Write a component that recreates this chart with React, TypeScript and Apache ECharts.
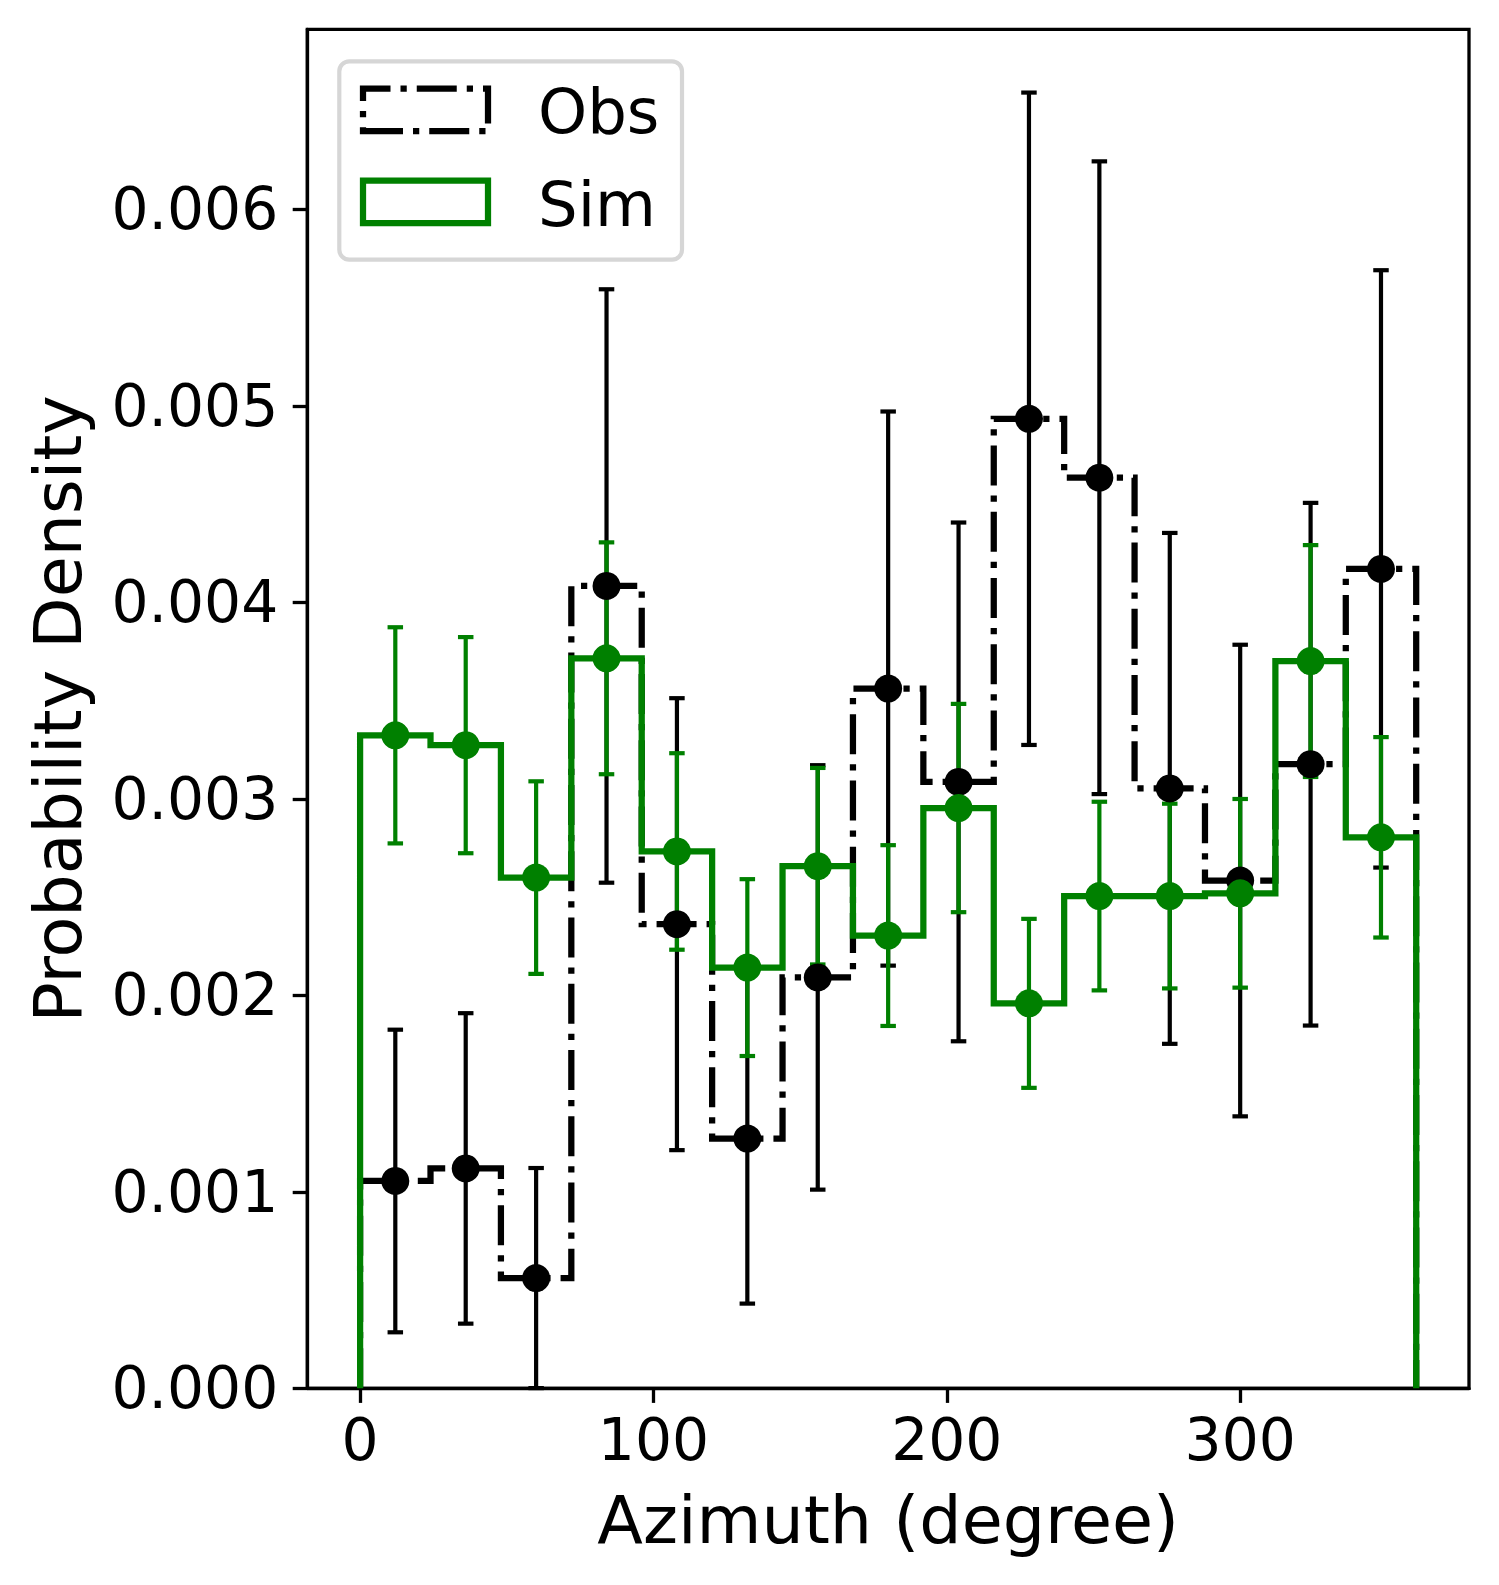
import React, { useEffect, useRef } from "react";
import * as echarts from "echarts";

// ---- data ----
const binEdges = [0, 24, 48, 72, 96, 120, 144, 168, 192, 216, 240, 264, 288, 312, 336, 360];
const binCenters = [12, 36, 60, 84, 108, 132, 156, 180, 204, 228, 252, 276, 300, 324, 348];
const obsDensity = [0.001055, 0.001119, 0.000561, 0.004083, 0.002362, 0.001271, 0.002091, 0.003561, 0.003086, 0.004934, 0.004634, 0.003053, 0.002584, 0.003176, 0.00417];
const obsError = [0.00077, 0.00079, 0.00056, 0.00151, 0.00115, 0.00084, 0.00108, 0.00141, 0.00132, 0.00166, 0.00161, 0.0013, 0.0012, 0.00133, 0.00152];
const simDensity = [0.003323, 0.003273, 0.002599, 0.003715, 0.002732, 0.002141, 0.002657, 0.002304, 0.002953, 0.001959, 0.002505, 0.002505, 0.002519, 0.003701, 0.002804];
const simError = [0.00055, 0.00055, 0.00049, 0.00059, 0.0005, 0.00045, 0.0005, 0.00046, 0.00053, 0.00043, 0.00048, 0.00047, 0.00048, 0.00059, 0.00051];
const xTicks = [0, 100, 200, 300];
const yTicks = [0, 0.001, 0.002, 0.003, 0.004, 0.005, 0.006];
const legendLabels = ["Obs", "Sim"];
const xName = "Azimuth (degree)";
const yName = "Probability Density";

const FONT = "DejaVu Sans";
const BLACK = "#000000";
const GREEN = "#008000";
const DASHDOT = [40, 10, 6.25, 10];

function stepPoints(edges: number[], values: number[]) {
  const pts: number[][] = [[edges[0], 0]];
  values.forEach((v, i) => {
    pts.push([edges[i], v]);
    pts.push([edges[i + 1], v]);
  });
  pts.push([edges[edges.length - 1], 0]);
  return pts;
}

function errData(values: number[], errs: number[]) {
  return binCenters.map((c, i) => [c, values[i] - errs[i], values[i] + errs[i]]);
}

function errRender(color: string) {
  return (params: any, api: any) => {
    const x = api.value(0);
    const lo = api.value(1);
    const hi = api.value(2);
    const top = api.coord([x, hi]);
    const bot = api.coord([x, lo]);
    const hw = 7.75;
    const style = { stroke: color, lineWidth: 4.2 };
    return {
      type: "group",
      children: [
        { type: "line", shape: { x1: top[0], y1: top[1], x2: bot[0], y2: bot[1] }, style },
        { type: "line", shape: { x1: top[0] - hw, y1: top[1], x2: top[0] + hw, y2: top[1] }, style },
        { type: "line", shape: { x1: bot[0] - hw, y1: bot[1], x2: bot[0] + hw, y2: bot[1] }, style },
      ],
    };
  };
}

export default function App() {
  const ref = useRef<HTMLDivElement>(null);
  useEffect(() => {
    if (!ref.current) return;
    const chart = echarts.init(ref.current, null, { renderer: "svg" });
    const gridLeft = 307.3;
    const gridTop = 29.3;
    const gridRight = 1469;
    const gridBottom = 1388.3;
    const axisLineStyle = { color: BLACK, width: 3.3 };
    const labelBase = { color: BLACK, fontFamily: FONT, fontSize: 58.3, lineHeight: 58 };

    const option: any = {
      animation: false,
      backgroundColor: "#ffffff",
      textStyle: { fontFamily: FONT },
      grid: {
        left: gridLeft,
        top: gridTop,
        width: gridRight - gridLeft,
        height: gridBottom - gridTop,
        show: true,
        borderColor: BLACK,
        borderWidth: 3.3,
        backgroundColor: "transparent",
        containLabel: false,
      },
      xAxis: {
        type: "value",
        min: -18,
        max: 378,
        axisLine: { show: true, onZero: false, lineStyle: axisLineStyle },
        axisTick: { show: true, length: 14.6, lineStyle: axisLineStyle, customValues: xTicks },
        axisLabel: { ...labelBase, margin: 23, customValues: xTicks, formatter: (v: number) => String(v) },
        splitLine: { show: false },
      },
      yAxis: {
        type: "value",
        min: 0,
        max: 0.006916,
        axisLine: { show: true, onZero: false, lineStyle: axisLineStyle },
        axisTick: { show: true, length: 14.6, lineStyle: axisLineStyle, customValues: yTicks },
        axisLabel: { ...labelBase, margin: 29, customValues: yTicks, formatter: (v: number) => v.toFixed(3) },
        splitLine: { show: false },
      },
      series: [
        {
          name: legendLabels[0],
          type: "line",
          data: stepPoints(binEdges, obsDensity),
          symbol: "none",
          showSymbol: false,
          lineStyle: { color: BLACK, width: 6.25, type: DASHDOT, cap: "butt", join: "miter" },
          z: 2,
          silent: true,
        },
        {
          name: legendLabels[1],
          type: "line",
          data: stepPoints(binEdges, simDensity),
          symbol: "none",
          showSymbol: false,
          lineStyle: { color: GREEN, width: 6.25, type: "solid", cap: "butt", join: "miter" },
          z: 3,
          silent: true,
        },
        {
          type: "custom",
          data: errData(obsDensity, obsError),
          renderItem: errRender(BLACK),
          encode: { x: 0, y: [1, 2] },
          z: 4,
          silent: true,
        },
        {
          type: "custom",
          data: errData(simDensity, simError),
          renderItem: errRender(GREEN),
          encode: { x: 0, y: [1, 2] },
          z: 5,
          silent: true,
        },
        {
          type: "scatter",
          data: binCenters.map((c, i) => [c, obsDensity[i]]),
          symbol: "circle",
          symbolSize: 28,
          itemStyle: { color: BLACK, opacity: 1 },
          z: 6,
          silent: true,
        },
        {
          type: "scatter",
          data: binCenters.map((c, i) => [c, simDensity[i]]),
          symbol: "circle",
          symbolSize: 28,
          itemStyle: { color: GREEN, opacity: 1 },
          z: 7,
          silent: true,
        },
      ],
      graphic: [
        {
          type: "rect",
          z: 100,
          shape: { x: 339.3, y: 61.3, width: 342.7, height: 198.4, r: 10 },
          style: { fill: "rgba(255,255,255,0.8)", stroke: "#d6d6d6", lineWidth: 4.2 },
        },
        {
          type: "polygon",
          z: 101,
          shape: { points: [[363, 131], [488, 131], [488, 88.5], [363, 88.5]] },
          style: { fill: "none", stroke: BLACK, lineWidth: 6.25, lineDash: DASHDOT },
        },
        {
          type: "rect",
          z: 101,
          shape: { x: 363, y: 180.5, width: 125, height: 42.5 },
          style: { fill: "none", stroke: GREEN, lineWidth: 6.25 },
        },
        {
          type: "text",
          z: 101,
          x: 538,
          y: 111,
          style: { text: legendLabels[0], fontSize: 62.5, fontFamily: FONT, fill: BLACK, align: "left", verticalAlign: "middle" },
        },
        {
          type: "text",
          z: 101,
          x: 538,
          y: 204,
          style: { text: legendLabels[1], fontSize: 62.5, fontFamily: FONT, fill: BLACK, align: "left", verticalAlign: "middle" },
        },
        {
          type: "text",
          z: 101,
          x: (gridLeft + gridRight) / 2,
          y: 1520,
          style: { text: xName, fontSize: 66.7, fontFamily: FONT, fill: BLACK, align: "center", verticalAlign: "middle" },
        },
        {
          type: "text",
          z: 101,
          x: 58,
          y: (gridTop + gridBottom) / 2,
          rotation: Math.PI / 2,
          style: { text: yName, fontSize: 66.7, fontFamily: FONT, fill: BLACK, align: "center", verticalAlign: "middle" },
        },
      ],
    };
    chart.setOption(option);
    return () => chart.dispose();
  }, []);
  return (
    <div
      ref={ref}
      style={{ position: "absolute", left: 0, top: 0, width: 1499, height: 1585, background: "#fff" }}
    />
  );
}
